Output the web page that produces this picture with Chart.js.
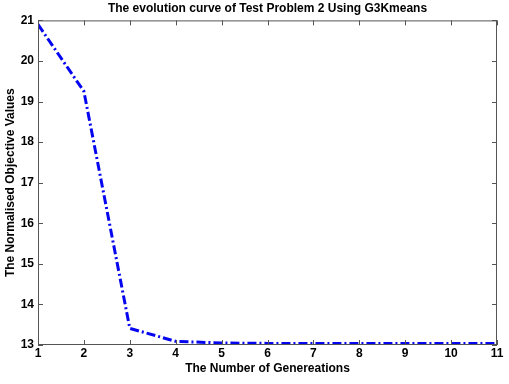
<!DOCTYPE html>
<html>
<head>
<meta charset="utf-8">
<script src="https://cdn.jsdelivr.net/npm/chart.js@4.4.1/dist/chart.umd.min.js"></script>
<style>
  html, body { margin: 0; padding: 0; background: #fff; }
  #wrap { width: 509px; height: 384px; }
</style>
</head>
<body>
<div id="wrap"><canvas id="evoChart" width="509" height="384"></canvas></div>
<script>
// data
const generations = [1, 2, 3, 4, 5, 6, 7, 8, 9, 10, 11];
const objectiveValues = [20.9, 19.25, 13.41, 13.09, 13.05, 13.04, 13.04, 13.04, 13.04, 13.04, 13.04];
const xTicks = [1, 2, 3, 4, 5, 6, 7, 8, 9, 10, 11];
const yTicks = [13, 14, 15, 16, 17, 18, 19, 20, 21];

const fontFamily = '"Liberation Sans", Arial, sans-serif';

// MATLAB-like box with inward tick marks
const boxTicks = {
    id: 'boxTicks',
    afterDraw(chart) {
        const ctx = chart.ctx;
        const a = chart.chartArea;
        const xs = chart.scales.x, ys = chart.scales.y;
        ctx.save();
        ctx.strokeStyle = '#555';
        ctx.lineWidth = 1;
        ctx.strokeRect(a.left + 0.5, a.top + 0.5, a.right - a.left - 1, a.bottom - a.top - 1);
        ctx.beginPath();
        xTicks.forEach(v => {
            const px = Math.round(xs.getPixelForValue(v)) + 0.5;
            ctx.moveTo(px, a.bottom); ctx.lineTo(px, a.bottom - 5);
            ctx.moveTo(px, a.top); ctx.lineTo(px, a.top + 5);
        });
        yTicks.forEach(v => {
            const py = Math.round(ys.getPixelForValue(v)) + 0.5;
            ctx.moveTo(a.left, py); ctx.lineTo(a.left + 5, py);
            ctx.moveTo(a.right, py); ctx.lineTo(a.right - 5, py);
        });
        ctx.stroke();
        ctx.restore();
    }
};

new Chart(document.getElementById('evoChart'), {
    type: 'line',
    data: {
        datasets: [{
            data: generations.map((g, i) => ({ x: g, y: objectiveValues[i] })),
            borderColor: 'rgb(5, 5, 240)',
            borderWidth: 3,
            borderDash: [9, 3, 2, 3],
            pointRadius: 0,
            tension: 0,
            fill: false
        }]
    },
    options: {
        responsive: false,
        animation: false,
        layout: { padding: { left: 3, right: 12, top: 0, bottom: 8 } },
        scales: {
            x: {
                type: 'linear',
                min: 1, max: 11,
                afterFit: s => { s.height = 31; },
                afterBuildTicks: s => { s.ticks = xTicks.map(v => ({ value: v })); },
                grid: { display: false, drawTicks: false },
                border: { display: false },
                ticks: { padding: 1, color: '#000', font: { family: fontFamily, size: 12, weight: 'bold' }, maxRotation: 0 },
                title: { display: true, text: 'The Number of Genereations', color: '#000', padding: { top: 0, bottom: 0 },
                         font: { family: fontFamily, size: 12, weight: 'bold' } }
            },
            y: {
                min: 13, max: 21,
                afterFit: s => { s.width = 35; },
                afterBuildTicks: s => { s.ticks = yTicks.map(v => ({ value: v })); },
                grid: { display: false, drawTicks: false },
                border: { display: false },
                ticks: { padding: 4, color: '#000', font: { family: fontFamily, size: 12, weight: 'bold' } },
                title: { display: true, text: 'The Normalised Objective Values', color: '#000', padding: { top: 0, bottom: 0 },
                         font: { family: fontFamily, size: 12, weight: 'bold' } }
            }
        },
        plugins: {
            legend: { display: false },
            tooltip: { enabled: false },
            title: {
                display: true,
                fullSize: false,
                text: 'The evolution curve of Test Problem 2 Using G3Kmeans',
                color: '#000',
                padding: { top: 1, bottom: 5 },
                font: { family: fontFamily, size: 12, weight: 'bold' }
            }
        }
    },
    plugins: [boxTicks]
});
</script>
</body>
</html>
